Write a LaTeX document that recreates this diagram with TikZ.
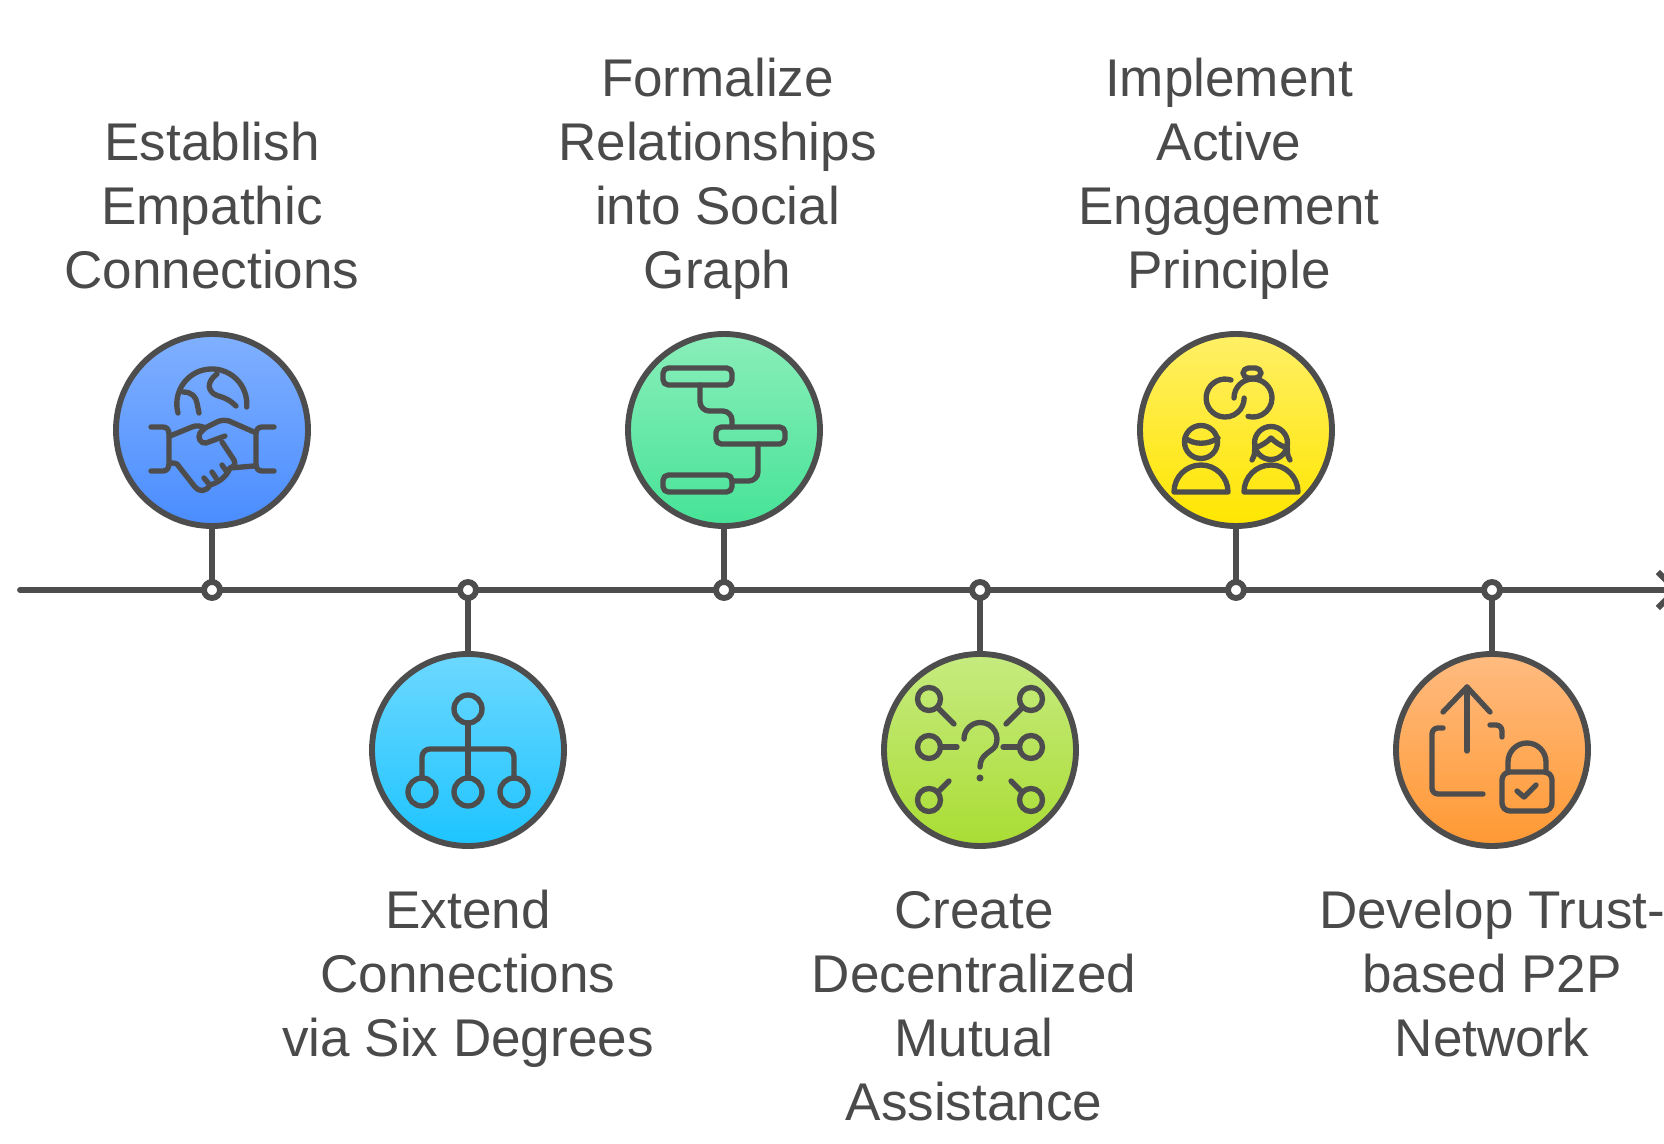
\documentclass[tikz,border=0pt]{standalone}
\usepackage{fontspec}
\setmainfont{Liberation Sans}
\usetikzlibrary{arrows.meta}

\definecolor{linegray}{HTML}{4D4D4D}
\definecolor{textgray}{HTML}{4A4A4A}
\definecolor{bluetop}{HTML}{80B0FF}
\definecolor{bluebot}{HTML}{4A8DFF}
\definecolor{cyantop}{HTML}{6DD8FF}
\definecolor{cyanbot}{HTML}{1DC4FF}
\definecolor{greentop}{HTML}{8AEEBA}
\definecolor{greenbot}{HTML}{46E397}
\definecolor{limetop}{HTML}{C6EB80}
\definecolor{limebot}{HTML}{A9DD33}
\definecolor{yellowtop}{HTML}{FFEF66}
\definecolor{yellowbot}{HTML}{FFE600}
\definecolor{orangetop}{HTML}{FFBB80}
\definecolor{orangebot}{HTML}{FF9933}

\tikzset{
  disc/.style={draw=linegray, circle, line width=4.4pt, minimum size=144pt, inner sep=0pt, outer sep=0pt},
  dot/.style={draw=linegray, fill=white, circle, line width=4.4pt, minimum size=12pt, inner sep=0pt, outer sep=0pt},
  axisline/.style={draw=linegray, line width=4.4pt, line cap=round},
  stem/.style={draw=linegray, line width=4.4pt},
  icon/.style={draw=linegray, line width=4pt, line cap=round, line join=round},
  caption/.style={text=textgray, align=center, inner sep=0pt, font=\fontsize{39.8}{48}\selectfont}
}

\begin{document}
\begin{tikzpicture}[x=0.75pt, y=0.75pt]
      \path[use as bounding box, clip] (0,-553) rectangle (1664,590);
      \coordinate (start) at (20,0);
      \coordinate (tip) at (1680,0);
      \draw[axisline, -{Straight Barb[length=13.5pt, width=27pt]}] (start) -- (tip);
      % dots on the line, discs above and below
      \foreach \s/\x/\y/\c in {1/212/160/blue, 2/468/-160/cyan, 3/724/160/green, 4/980/-160/lime, 5/1236/160/yellow, 6/1492/-160/orange}
               {
                 \node[dot] (dot\s) at (\x,0) {};
                 \node[disc, top color=\c top, bottom color=\c bot] (disc\s) at (\x,\y) {};
                 \draw[stem] (dot\s) -- (disc\s);
               }

      \node[caption] (label1) at (212,384) {Establish\\Empathic\\Connections};
      \node[caption] (label2) at (468,-389) {Extend\\Connections\\via Six Degrees};
      \node[caption] (label3) at (717.5,411) {Formalize\\Relationships\\into Social\\Graph};
      \node[caption] (label4) at (974,-416) {Create\\Decentralized\\Mutual\\Assistance};
      \node[caption] (label5) at (1229,411) {Implement\\Active\\Engagement\\Principle};
      \node[caption] (label6) at (1492,-384) {Develop Trust-\\based P2P\\Network};

      % globe and handshake
      \begin{scope}[shift={(disc1.center)}]
        \draw[icon] (-34,17) arc[start angle=195, end angle=-5, radius=35];
        \draw[icon] (-29,38) .. controls (-20,38) and (-16,33) .. (-15,27) -- (-13,17);
        \draw[icon] (5,56) .. controls (-3,50) and (-6,42) .. (2,36) .. controls (6,33) and (14,34) .. (24,24);
        \draw[icon] (-61,3) -- (-49,3) .. controls (-45,3) and (-43,0) .. (-43,-4) -- (-43,-33) .. controls (-43,-38) and (-45,-41) .. (-49,-41) -- (-61,-41);
        \draw[icon] (62,3) -- (50,3) .. controls (46,3) and (44,0) .. (44,-4) -- (44,-34) .. controls (44,-38) and (46,-41) .. (50,-41) -- (62,-41);
        \draw[icon] (-42,-6) -- (-20,3) .. controls (-16,5) and (-10,4) .. (-7,2) -- (5,8) .. controls (9,10) and (13,10) .. (17,9) -- (42,-2);
        \draw[icon] (-7,2) -- (-12,-3) .. controls (-15,-8) and (-11,-14) .. (-6,-13) -- (13,-6);
        \draw[icon] (10,-12) -- (22,-30) .. controls (24,-34) and (22,-37) .. (18,-38) -- (42,-36);
        \draw[icon] (-42,-33) .. controls (-39,-33) and (-37,-33) .. (-35,-34) -- (-17,-57) .. controls (-13,-62) and (-6,-62) .. (-2,-55) .. controls (5,-53) and (14,-48) .. (18,-38);
        \draw[icon] (-8,-48) -- (-3,-54);
        \draw[icon] (0,-42) -- (4,-48);
        \draw[icon] (10,-35) -- (15,-42);
      \end{scope}

      % org chart
      \begin{scope}[shift={(disc2.center)}]
        \foreach \p in {(0,41), (-46,-42), (0,-42), (46,-42)}
                 \draw[icon] \p circle (14);
        \draw[icon] (0,27) -- (0,-28);
        \draw[icon, rounded corners=6pt] (-46,-28) -- (-46,1) -- (46,1) -- (46,-28);
      \end{scope}

      % three bars joined up
      \begin{scope}[shift={(disc3.center)}]
        \draw[icon, rounded corners=4pt] (-61,45) rectangle (8,62);
        \draw[icon, rounded corners=4pt] (-8,-14) rectangle (61,3);
        \draw[icon, rounded corners=4pt] (-61,-62) rectangle (8,-45);
        \draw[icon, rounded corners=7pt] (-24,45) -- (-24,19) -- (8,19) -- (8,3);
        \draw[icon, rounded corners=7pt] (34,-14) -- (34,-51) -- (8,-51);
      \end{scope}

      % rings and two people
      \begin{scope}[shift={(disc5.center)}]
        \draw[icon] (-5,50) arc[start angle=72, end angle=360, radius=19];
        \draw[icon] (-2,32) arc[start angle=180, end angle=-105, radius=19];
        \draw[icon, rounded corners=4pt] (7,52) rectangle (25,62);
        \draw[icon] (-35,-12) circle (16.5);
        \draw[icon] (-51,-8) .. controls (-42,-15) and (-28,-15) .. (-18,-8);
        \draw[icon] (-62,-62) arc[start angle=180, end angle=0, radius=27] -- cycle;
        \draw[icon] (35,-13) circle (16.5);
        \draw[icon] (16,-30) .. controls (20,-24) and (18,-20) .. (19,-14);
        \draw[icon] (54,-30) .. controls (50,-24) and (52,-20) .. (51,-14);
        \draw[icon] (19,-18) .. controls (27,-15) and (31,-12) .. (35,-8) .. controls (39,-12) and (43,-15) .. (51,-18);
        \draw[icon] (8,-62) arc[start angle=180, end angle=0, radius=27] -- cycle;
      \end{scope}

      % question mark with six keys
      \begin{scope}[shift={(disc4.center)}]
        \foreach \p in {(-51,51), (51,51), (-51,3), (51,3), (-51,-50), (51,-50)}
                 \draw[icon] \p circle (11.5);
        \draw[icon] (-42,42) -- (-26,26);
        \draw[icon] (42,42) -- (26,26);
        \draw[icon] (-38,3) -- (-23,3);
        \draw[icon] (38,3) -- (23,3);
        \draw[icon] (-42,-42) -- (-31,-31);
        \draw[icon] (42,-42) -- (31,-31);
        \draw[icon] (-16,11) arc[start angle=180, end angle=-25, radius=16.5] .. controls (12,-2) and (0,-4) .. (0,-17);
        \fill[linegray] (0,-28) circle (3.5);
      \end{scope}

      % upload with padlock
      \begin{scope}[shift={(disc6.center)}]
        \draw[icon] (-25,-1) -- (-25,63);
        \draw[icon] (-49,38) -- (-25,63) -- (-2,38);
        \draw[icon, rounded corners=4.5pt] (-49,22) -- (-60,22) -- (-60,-44) -- (-9,-44);
        \draw[icon, rounded corners=4.5pt] (-2,25) -- (10,25) -- (10,13);
        \draw[icon, rounded corners=6pt] (10,-22) rectangle (60,-61);
        \draw[icon] (16,-20) -- (16,-12) arc[start angle=180, end angle=0, radius=19] -- (54,-20);
        \draw[icon] (25,-41) -- (32,-47) -- (44,-35);
      \end{scope}
    \end{tikzpicture}
\end{document}
